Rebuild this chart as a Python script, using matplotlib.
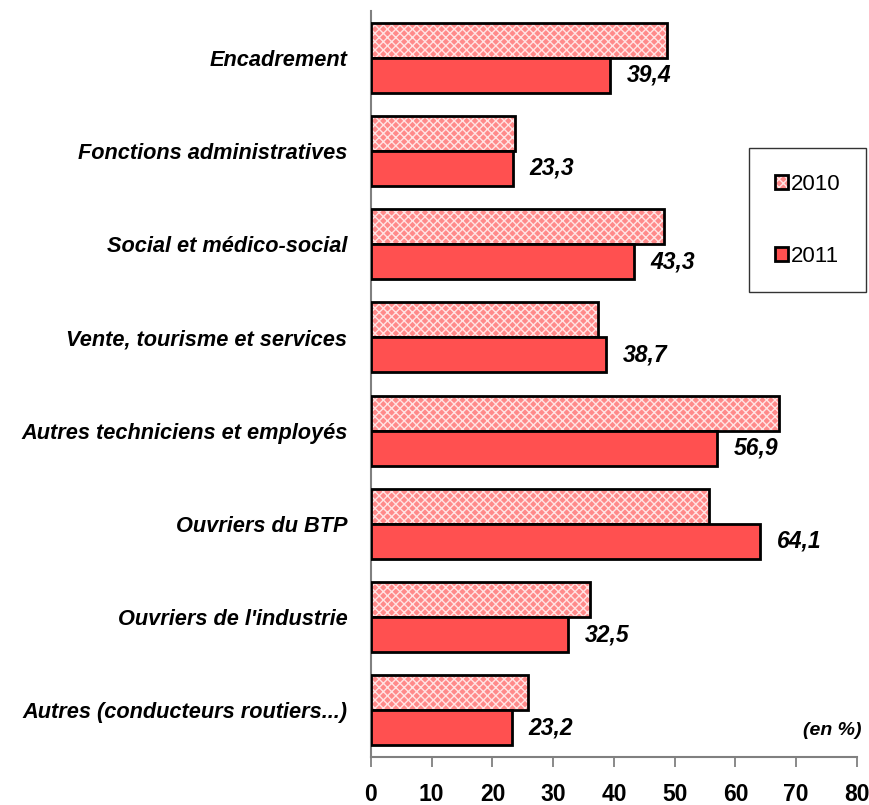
import numpy as np
import matplotlib.pyplot as plt
from matplotlib.patches import Patch
from matplotlib.legend_handler import HandlerTuple

categories = ['Encadrement', 'Fonctions administratives', 'Social et médico-social',
              'Vente, tourisme et services', 'Autres techniciens et employés',
              'Ouvriers du BTP', "Ouvriers de l'industrie", 'Autres (conducteurs routiers...)']
v2010 = [48.7, 23.7, 48.2, 37.4, 67.2, 55.6, 36.0, 25.8]
v2011 = [39.4, 23.3, 43.3, 38.7, 56.9, 64.1, 32.5, 23.2]
labels2011 = ['39,4', '23,3', '43,3', '38,7', '56,9', '64,1', '32,5', '23,2']

fam = ['Liberation Sans', 'DejaVu Sans']
plt.rcParams['font.family'] = fam
plt.rcParams['hatch.linewidth'] = 1.0

fig = plt.figure(figsize=(8.7, 8.05), dpi=100)
ax = fig.add_axes([371/870, 1-757/805, (857-371)/870, (757-11)/805])

y = np.arange(len(categories))
h = 0.375
c2010 = '#ff8a8a'
hatch_col = '#ffe4e4'
c2011 = '#ff5050'

# 2010: hatched pink, then black outline on top
ax.barh(y - h/2, v2010, h, color=c2010, edgecolor=hatch_col, hatch='xxxx', linewidth=0, zorder=2)
ax.barh(y - h/2, v2010, h, facecolor='none', edgecolor='black', linewidth=2, zorder=3)
# 2011: solid red
ax.barh(y + h/2, v2011, h, color=c2011, edgecolor='black', linewidth=2, zorder=3)

for yi, v, lab in zip(y, v2011, labels2011):
    ax.annotate(lab, (v, yi + h/2), xytext=(12, 0), textcoords='offset points',
                va='center', ha='left', fontsize=16.5, fontweight='bold', style='italic')

ax.set_ylim(len(categories) - 0.5, -0.5)
ax.set_xlim(0, 80)
ax.set_xticks(np.arange(0, 81, 10))
ax.set_yticks(y)
ax.set_yticklabels(categories, fontsize=15.7, fontweight='bold', style='italic')
ax.tick_params(axis='y', length=0, pad=17)
ax.tick_params(axis='x', direction='out', length=7, width=1.3, color='#808080', pad=12)
for t in ax.get_xticklabels():
    t.set_fontsize(16.5)
    t.set_fontweight('bold')

for s in ['top', 'right']:
    ax.spines[s].set_visible(False)
for s in ['left', 'bottom']:
    ax.spines[s].set_color('#808080')
    ax.spines[s].set_linewidth(1.5)

ax.text(1.01, 0.036, '(en %)', transform=ax.transAxes, ha='right', va='center',
        fontsize=14, fontweight='bold', style='italic')

h2010 = (Patch(facecolor=c2010, edgecolor=hatch_col, hatch='xxxx', linewidth=0),
         Patch(facecolor='none', edgecolor='black', linewidth=2))
h2011 = Patch(facecolor=c2011, edgecolor='black', linewidth=2)
leg = fig.legend([h2010, h2011], ['2010', '2011'], loc='upper left',
                 handler_map={tuple: HandlerTuple(ndivide=1, pad=0)},
                 bbox_to_anchor=(749/870, 1-148/805), fontsize=16,
                 frameon=True, fancybox=False, edgecolor='black', handlelength=0.6,
                 handleheight=0.6, handletextpad=0.15, labelspacing=2.3,
                 borderpad=1.15, borderaxespad=0)
leg.get_frame().set_linewidth(1.0)

fig.savefig('out.png', dpi=100)
